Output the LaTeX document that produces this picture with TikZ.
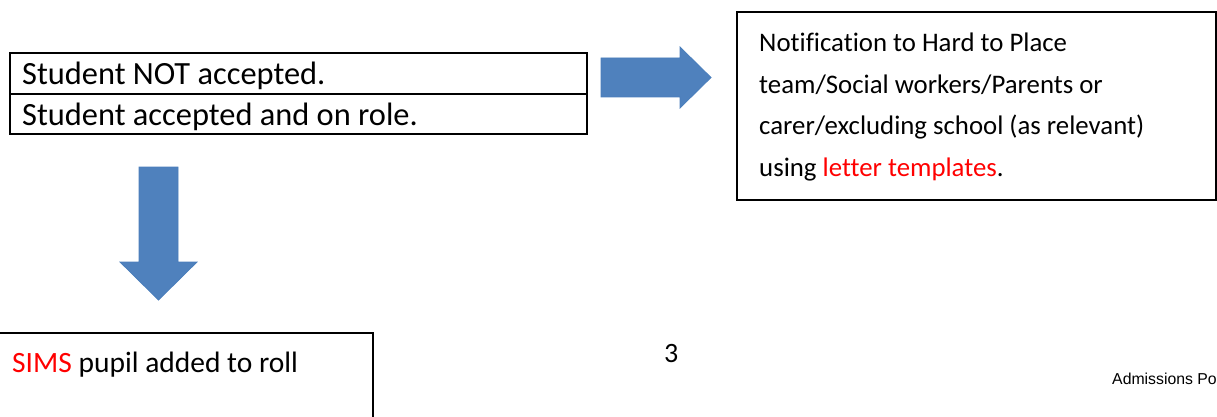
\documentclass[tikz,border=0pt]{standalone}
\usepackage{fontspec}
\setmainfont[Ligatures=NoCommon]{Carlito}
\newfontfamily\arialfont{Liberation Sans}
\definecolor{arrowblue}{HTML}{4F81BD}
\definecolor{arrowedge}{HTML}{4A7EBB}
\definecolor{txtred}{HTML}{FF0000}
\tikzset{
  box/.style={draw=black, line width=1.5pt},
  txt/.style={inner sep=0pt, anchor=base west, font=\fontsize{26.8}{41.5}\selectfont},
  bigtxt/.style={txt, font=\fontsize{32.4}{40}\selectfont},
  blockarrow/.style={fill=arrowblue, draw=arrowedge, line width=0.8pt},
}
\begin{document}
\begin{tikzpicture}[x=1pt, y=-1pt]
\useasboundingbox (0,0) rectangle (1217,417);
\begin{scope}
\clip (0,0) rectangle (1217,417);
% top-left table
\draw[box] (10,53) rectangle (587,134);
\draw[box] (10,94) -- (587,94);
\node[bigtxt] (notacc) at (22,85) {Student NOT accepted.};
\node[bigtxt] (acc) at (22,125) {Student accepted and on role.};
% right arrow
\draw[blockarrow] (601,58) -- (680,58) -- (680,47) -- (711,77.5) -- (680,108) -- (680,97) -- (601,97) -- cycle;
% right box
\draw[box] (737,12) rectangle (1216,200);
\node[txt] (notif1) at (759,52) {Notification to Hard to Place};
\node[txt] (notif2) at (759,93.5) {team/Social workers/Parents or};
\node[txt] (notif3) at (759,135) {carer/excluding school (as relevant)};
\node[txt] (notif4) at (759,176.5) {using \textcolor{txtred}{letter templates}.};
% down arrow
\draw[blockarrow] (139,167) -- (178,167) -- (178,262) -- (197,262) -- (158.5,300) -- (120,262) -- (139,262) -- cycle;
% bottom box
\draw[box] (-5,333) rectangle (373,430);
\node[txt, font=\fontsize{29.5}{35}\selectfont] (sims) at (12,372) {\textcolor{txtred}{SIMS} pupil added to roll};
% page number
\node[txt, font=\fontsize{28}{34}\selectfont] (pagenum) at (664,362) {3};
% footer
\node[inner sep=0pt, anchor=base west, font=\arialfont\fontsize{15.8}{18}\selectfont] (footer) at (1112,384) {Admissions Po};
\end{scope}
\end{tikzpicture}
\end{document}
